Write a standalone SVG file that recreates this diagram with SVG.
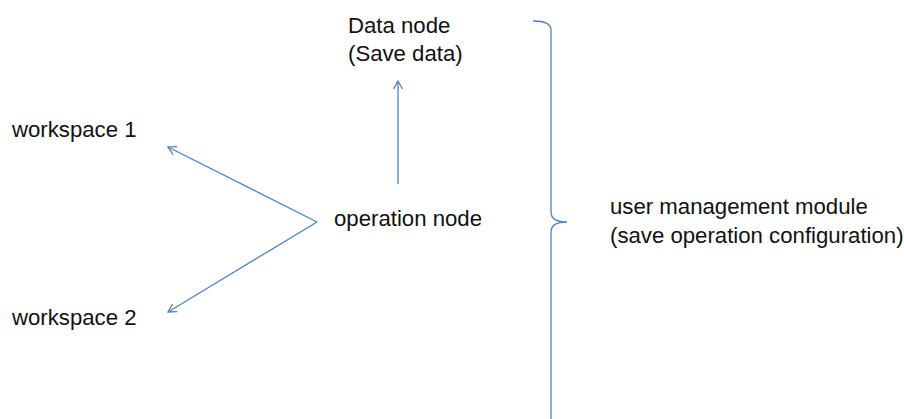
<svg xmlns="http://www.w3.org/2000/svg" width="904" height="419" viewBox="0 0 904 419">
<style>
text{font-family:"Liberation Sans",Arial,sans-serif;font-size:22.2px;fill:#111}
.ln{stroke:#4F81BD;stroke-width:1.3;fill:none}
</style>
<defs>
<marker id="ah" viewBox="-10 -6 12 12" markerWidth="12" markerHeight="12" refX="0" refY="0" orient="auto" markerUnits="userSpaceOnUse">
<path d="M-8,-4.5 L0,0 L-8,4.5" fill="none" stroke="#4F81BD" stroke-width="1.3"/>
</marker>
</defs>
<rect width="904" height="419" fill="#fff"/>
<g id="data-node"><text x="348" y="33">Data node</text><text x="348" y="61">(Save data)</text></g>
<g id="workspace-1"><text x="12" y="137">workspace 1</text></g>
<g id="workspace-2"><text x="12" y="325">workspace 2</text></g>
<g id="operation-node"><text x="334" y="226">operation node</text></g>
<g id="user-management-module"><text x="610" y="214">user management module</text><text x="610" y="243">(save operation configuration)</text></g>
<g id="connectors">
<line class="ln" x1="398" y1="184" x2="398" y2="81" marker-end="url(#ah)"/>
<line class="ln" x1="317" y1="222" x2="168" y2="147" marker-end="url(#ah)"/>
<line class="ln" x1="317" y1="222" x2="168" y2="312" marker-end="url(#ah)"/>
<path class="ln" d="M533,21 Q551,21 551,30 L551,212 Q551,222 567,222 Q551,222 551,232 L551,419"/>
</g>
</svg>
